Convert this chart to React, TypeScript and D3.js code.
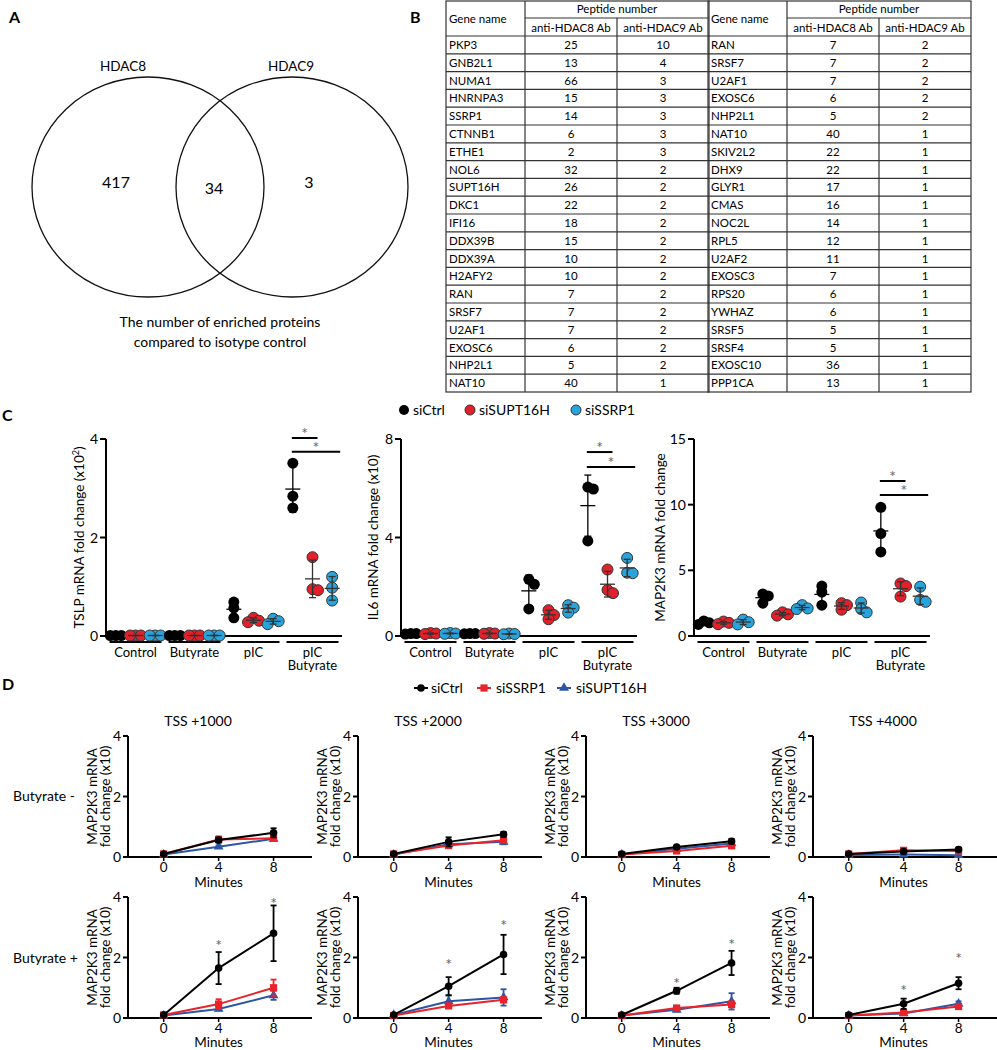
import React from "react";
import * as d3 from "d3";

const W = 997;
const H = 1050;
const FONT = "Lato, 'Liberation Sans', Arial, sans-serif";

// ---------------- Panel A data ----------------
const vennSets = ["HDAC8", "HDAC9"];
const vennCounts = [417, 34, 3];
const vennCaption = ["The number of enriched proteins", "compared to isotype control"];

// ---------------- Panel B data ----------------
const tableHeader = ["Gene name", "Peptide number", "anti-HDAC8 Ab", "anti-HDAC9 Ab"];
const leftGenes = ["PKP3", "GNB2L1", "NUMA1", "HNRNPA3", "SSRP1", "CTNNB1", "ETHE1", "NOL6", "SUPT16H", "DKC1", "IFI16", "DDX39B", "DDX39A", "H2AFY2", "RAN", "SRSF7", "U2AF1", "EXOSC6", "NHP2L1", "NAT10"];
const leftHDAC8 = [25, 13, 66, 15, 14, 6, 2, 32, 26, 22, 18, 15, 10, 10, 7, 7, 7, 6, 5, 40];
const leftHDAC9 = [10, 4, 3, 3, 3, 3, 3, 2, 2, 2, 2, 2, 2, 2, 2, 2, 2, 2, 2, 1];
const rightGenes = ["RAN", "SRSF7", "U2AF1", "EXOSC6", "NHP2L1", "NAT10", "SKIV2L2", "DHX9", "GLYR1", "CMAS", "NOC2L", "RPL5", "U2AF2", "EXOSC3", "RPS20", "YWHAZ", "SRSF5", "SRSF4", "EXOSC10", "PPP1CA"];
const rightHDAC8 = [7, 7, 7, 6, 5, 40, 22, 22, 17, 16, 14, 12, 11, 7, 6, 6, 5, 5, 36, 13];
const rightHDAC9 = [2, 2, 2, 2, 2, 1, 1, 1, 1, 1, 1, 1, 1, 1, 1, 1, 1, 1, 1, 1];

// ---------------- Panel C data ----------------
const cGroups = ["Control", "Butyrate", "pIC", "pIC Butyrate"];
const cSeries = ["siCtrl", "siSUPT16H", "siSSRP1"];
// [group][replicate]
const tslpSiCtrl = [[0.01, 0.01, 0.01], [0.01, 0.01, 0.01], [0.69, 0.57, 0.37], [3.51, 2.84, 2.6]];
const tslpSiSUPT16H = [[0.01, 0.01, 0.01], [0.01, 0.01, 0.01], [0.37, 0.31, 0.28], [1.6, 0.95, 0.93]];
const tslpSiSSRP1 = [[0.01, 0.01, 0.01], [0.01, 0.01, 0.01], [0.35, 0.3, 0.24], [1.2, 0.98, 0.72]];
const il6SiCtrl = [[0.1, 0.1, 0.08], [0.1, 0.1, 0.09], [2.3, 2.1, 1.1], [6.05, 5.97, 3.86]];
const il6SiSUPT16H = [[0.12, 0.1, 0.08], [0.12, 0.1, 0.09], [1.05, 0.85, 0.68], [2.7, 1.87, 1.74]];
const il6SiSSRP1 = [[0.12, 0.1, 0.09], [0.1, 0.08, 0.07], [1.25, 1.15, 0.95], [3.17, 2.57, 2.55]];
const mapSiCtrl = [[1.15, 1.0, 0.88], [3.2, 3.05, 2.5], [3.8, 3.35, 2.35], [9.8, 7.8, 6.4]];
const mapSiSUPT16H = [[1.1, 1.0, 0.9], [1.8, 1.65, 1.55], [2.5, 2.35, 2.0], [4.0, 3.8, 3.0]];
const mapSiSSRP1 = [[1.25, 1.05, 0.88], [2.35, 2.1, 2.05], [2.55, 2.05, 1.8], [3.75, 2.75, 2.6]];
const tslpTicks = [0, 2, 4];
const il6Ticks = [0, 4, 8];
const mapTicks = [0, 5, 10, 15];
// significance bar heights (data units): [ctrl vs siSUPT16H, ctrl vs siSSRP1]
const tslpSig = [4.02, 3.74];
const il6Sig = [7.47, 6.86];
const mapSig = [11.8, 10.74];

// ---------------- Panel D data ----------------
const dTimes = [0, 4, 8];
const dTitles = ["TSS +1000", "TSS +2000", "TSS +3000", "TSS +4000"];
const dRowLabels = ["Butyrate -", "Butyrate +"];
const dSeries = ["siCtrl", "siSSRP1", "siSUPT16H"];
const dYTicks = [0, 2, 4];
// Butyrate - : [plot][time]
const dMinusCtrlMean = [[0.1, 0.56, 0.8], [0.1, 0.5, 0.75], [0.1, 0.33, 0.52], [0.1, 0.18, 0.25]];
const dMinusCtrlErr = [[0.03, 0.08, 0.15], [0.03, 0.15, 0.08], [0.03, 0.04, 0.08], [0.03, 0.05, 0.06]];
const dMinusSSRP1Mean = [[0.1, 0.58, 0.62], [0.1, 0.38, 0.55], [0.08, 0.2, 0.37], [0.1, 0.22, 0.2]];
const dMinusSSRP1Err = [[0.05, 0.1, 0.06], [0.04, 0.06, 0.08], [0.03, 0.05, 0.06], [0.03, 0.04, 0.05]];
const dMinusSUPTMean = [[0.08, 0.34, 0.6], [0.08, 0.42, 0.5], [0.08, 0.27, 0.45], [0.07, 0.08, 0.06]];
const dMinusSUPTErr = [[0.02, 0.04, 0.05], [0.02, 0.05, 0.08], [0.02, 0.04, 0.05], [0.02, 0.03, 0.03]];
// Butyrate + : [plot][time]
const dPlusCtrlMean = [[0.1, 1.65, 2.8], [0.1, 1.05, 2.1], [0.1, 0.9, 1.82], [0.1, 0.47, 1.15]];
const dPlusCtrlErr = [[0.03, 0.53, 0.92], [0.03, 0.3, 0.65], [0.03, 0.1, 0.4], [0.03, 0.17, 0.2]];
const dPlusSSRP1Mean = [[0.1, 0.46, 1.0], [0.08, 0.4, 0.6], [0.08, 0.33, 0.45], [0.08, 0.18, 0.38]];
const dPlusSSRP1Err = [[0.04, 0.16, 0.27], [0.03, 0.06, 0.08], [0.03, 0.05, 0.1], [0.03, 0.05, 0.08]];
const dPlusSUPTMean = [[0.08, 0.3, 0.75], [0.1, 0.55, 0.68], [0.08, 0.27, 0.55], [0.08, 0.15, 0.47]];
const dPlusSUPTErr = [[0.02, 0.05, 0.15], [0.03, 0.2, 0.27], [0.02, 0.05, 0.27], [0.02, 0.04, 0.08]];
// significance star heights (data units) at 4 and 8 min, Butyrate +
const dPlusStars = [[2.5, 3.9], [1.9, 3.17], [1.26, 2.55], [1.02, 2.08]];

// ---------------- Styles ----------------
const C_FILL = ["#000000", "#e3202a", "#27a4de"];
const C_LINE = ["#000000", "#333333", "#333333"];
const D_COLOR = ["#000000", "#e8232a", "#2c55a6"];
const STAR = "#666666";

function PanelA() {
  const circles = [
    { cx: 148, cy: 187 },
    { cx: 292, cy: 187 },
  ];
  const labelPos = [123, 291];
  const countPos = [
    { x: 116, y: 188 },
    { x: 214, y: 194 },
    { x: 309, y: 188 },
  ];
  return (
    <g>
      <text x={9} y={23} fontSize={16} fontWeight="bold">A</text>
      {circles.map((c, i) => (
        <ellipse key={i} cx={c.cx} cy={c.cy} rx={116} ry={110} fill="none" stroke="#111" strokeWidth={1.3} />
      ))}
      {vennSets.map((s, i) => (
        <text key={s} x={labelPos[i]} y={71} fontSize={13.5} textAnchor="middle">{s}</text>
      ))}
      {vennCounts.map((c, i) => (
        <text key={i} x={countPos[i].x} y={countPos[i].y} fontSize={16} textAnchor="middle">{c}</text>
      ))}
      {vennCaption.map((t, i) => (
        <text key={i} x={220} y={327 + i * 20} fontSize={14} textAnchor="middle">{t}</text>
      ))}
    </g>
  );
}

function Table({ x0, genes, h8, h9 }: { x0: number; genes: string[]; h8: number[]; h9: number[] }) {
  const xs = [x0, x0 + 79, x0 + 171, x0 + 263];
  const top = 1;
  const mid = 18;
  const hdr = 36;
  const bottom = 392;
  const rowY = d3.scaleBand<number>().domain(d3.range(genes.length)).range([hdr, bottom]);
  const rh = rowY.bandwidth();
  const stroke = "#333";
  return (
    <g fontSize={11.5}>
      <rect x={xs[0]} y={top} width={xs[3] - xs[0]} height={bottom - top} fill="none" stroke={stroke} strokeWidth={1.2} />
      <line x1={xs[1]} x2={xs[3]} y1={mid} y2={mid} stroke={stroke} strokeWidth={1.2} />
      <line x1={xs[1]} x2={xs[1]} y1={top} y2={bottom} stroke={stroke} strokeWidth={1.2} />
      <line x1={xs[2]} x2={xs[2]} y1={mid} y2={bottom} stroke={stroke} strokeWidth={1.2} />
      {d3.range(genes.length).map((i) => (
        <line key={i} x1={xs[0]} x2={xs[3]} y1={rowY(i)!} y2={rowY(i)!} stroke={stroke} strokeWidth={1.2} />
      ))}
      <text x={xs[0] + 3} y={23}>{tableHeader[0]}</text>
      <text x={(xs[1] + xs[3]) / 2} y={13} textAnchor="middle">{tableHeader[1]}</text>
      <text x={(xs[1] + xs[2]) / 2} y={32} textAnchor="middle">{tableHeader[2]}</text>
      <text x={(xs[2] + xs[3]) / 2} y={32} textAnchor="middle">{tableHeader[3]}</text>
      {genes.map((g, i) => (
        <g key={i}>
          <text x={xs[0] + 3} y={rowY(i)! + rh / 2 + 4}>{g}</text>
          <text x={(xs[1] + xs[2]) / 2} y={rowY(i)! + rh / 2 + 4} textAnchor="middle">{h8[i]}</text>
          <text x={(xs[2] + xs[3]) / 2} y={rowY(i)! + rh / 2 + 4} textAnchor="middle">{h9[i]}</text>
        </g>
      ))}
    </g>
  );
}

function PanelB() {
  return (
    <g>
      <text x={410} y={23} fontSize={16} fontWeight="bold">B</text>
      <Table x0={446} genes={leftGenes} h8={leftHDAC8} h9={leftHDAC9} />
      <Table x0={708} genes={rightGenes} h8={rightHDAC8} h9={rightHDAC9} />
    </g>
  );
}

function swarm(ys: number[], r: number): number[] {
  const placed: { x: number; y: number }[] = [];
  return ys.map((yv) => {
    const cands = [0, 1, -1, 2, -2];
    for (const c of cands) {
      const dx = c * r;
      if (placed.every((p) => Math.hypot(p.x - dx, p.y - yv) >= r * 0.999)) {
        placed.push({ x: dx, y: yv });
        return dx;
      }
    }
    return 0;
  });
}

function CPlot({
  axisX,
  yMax,
  ticks,
  data,
  sig,
  label,
  labelOffset,
}: {
  axisX: number;
  yMax: number;
  ticks: number[];
  data: number[][][];
  sig: number[];
  label: React.ReactNode;
  labelOffset: number;
}) {
  const y0 = 636;
  const yTop = 439;
  const y = d3.scaleLinear().domain([0, yMax]).range([y0, yTop]);
  const band = d3.scaleBand<string>().domain(cGroups).range([axisX, axisX + 236]);
  const step = band.bandwidth() / 3;
  const sx = (g: string, s: number) => band(g)! + band.bandwidth() / 2 + (s - 1) * step;
  const r = 5.5;
  const last = cGroups[3];
  const bx0 = sx(last, 0) - 1;
  const bEnds = [sx(last, 1) + 5, sx(last, 2) + 8];
  return (
    <g>
      {/* y axis */}
      <line x1={axisX} x2={axisX} y1={y0 + 1} y2={yTop} stroke="#000" strokeWidth={2} />
      {ticks.map((t) => (
        <g key={t}>
          <line x1={axisX - 6} x2={axisX} y1={y(t)} y2={y(t)} stroke="#000" strokeWidth={2} />
          <text x={axisX - 8} y={y(t) + 5} fontSize={14} textAnchor="end">{t}</text>
        </g>
      ))}
      <text transform={`translate(${axisX - labelOffset},${(y0 + yTop) / 2}) rotate(-90)`} fontSize={13.5} textAnchor="middle">
        {label}
      </text>
      {/* x axis */}
      <line x1={axisX - 1} x2={axisX + 236} y1={y0} y2={y0} stroke="#000" strokeWidth={2} />
      {cGroups.map((g) => {
        const x1 = band(g)! + 3.5;
        const x2 = band(g)! + band.bandwidth() - 3.5;
        const cx = (x1 + x2) / 2;
        const parts = g.split(" ");
        return (
          <g key={g}>
            <line x1={x1} x2={x2} y1={642} y2={642} stroke="#000" strokeWidth={2} />
            <text x={cx} y={657} fontSize={13} textAnchor="middle">
              {parts.map((p, i) => (
                <tspan key={i} x={cx} dy={i === 0 ? 0 : 13}>{p}</tspan>
              ))}
            </text>
          </g>
        );
      })}
      {/* points */}
      {cGroups.map((g, gi) =>
        data.map((series, si) => {
          const vals = series[gi];
          const ys = vals.map((v) => y(v));
          const offs = swarm(ys, r);
          const m = d3.mean(vals)!;
          const sd = d3.deviation(vals)!;
          const cx = sx(g, si);
          return (
            <g key={g + si}>
              {vals.map((v, k) => (
                <circle
                  key={k}
                  cx={cx + offs[k]}
                  cy={y(v)}
                  r={r}
                  fill={C_FILL[si]}
                  stroke={si === 0 ? "none" : "#333"}
                  strokeWidth={1}
                />
              ))}
              <line x1={cx} x2={cx} y1={y(m - sd)} y2={y(m + sd)} stroke={C_LINE[si]} strokeWidth={1.3} />
              <line x1={cx - 3.5} x2={cx + 3.5} y1={y(m - sd)} y2={y(m - sd)} stroke={C_LINE[si]} strokeWidth={1.3} />
              <line x1={cx - 3.5} x2={cx + 3.5} y1={y(m + sd)} y2={y(m + sd)} stroke={C_LINE[si]} strokeWidth={1.3} />
              <line x1={cx - 7.5} x2={cx + 7.5} y1={y(m)} y2={y(m)} stroke={C_LINE[si]} strokeWidth={1.3} />
            </g>
          );
        })
      )}
      {/* significance */}
      {sig.map((s, i) => (
        <g key={i}>
          <line x1={bx0} x2={bEnds[i]} y1={y(s)} y2={y(s)} stroke="#000" strokeWidth={2} />
          <text x={(bx0 + bEnds[i]) / 2} y={y(s) + 1} fontSize={16} fill={STAR} textAnchor="middle">*</text>
        </g>
      ))}
    </g>
  );
}

function PanelC() {
  const legendX = [404, 470, 576];
  return (
    <g>
      <text x={2} y={421} fontSize={16} fontWeight="bold">C</text>
      {cSeries.map((s, i) => (
        <g key={s}>
          <circle cx={legendX[i]} cy={410} r={5} fill={C_FILL[i]} stroke={i === 0 ? "none" : "#333"} />
          <text x={legendX[i] + 9} y={415} fontSize={14}>{s}</text>
        </g>
      ))}
      <CPlot
        axisX={106}
        yMax={4}
        ticks={tslpTicks}
        data={[tslpSiCtrl, tslpSiSUPT16H, tslpSiSSRP1]}
        sig={tslpSig}
        labelOffset={22}
        label={
          <>
            TSLP mRNA fold change (x10<tspan dy={-5} fontSize={9}>2</tspan>
            <tspan dy={5}>)</tspan>
          </>
        }
      />
      <CPlot
        axisX={401}
        yMax={8}
        ticks={il6Ticks}
        data={[il6SiCtrl, il6SiSUPT16H, il6SiSSRP1]}
        sig={il6Sig}
        labelOffset={23}
        label={"IL6 mRNA fold change (x10)"}
      />
      <CPlot
        axisX={694}
        yMax={15}
        ticks={mapTicks}
        data={[mapSiCtrl, mapSiSUPT16H, mapSiSSRP1]}
        sig={mapSig}
        labelOffset={29}
        label={"MAP2K3 mRNA fold change"}
      />
    </g>
  );
}

function Marker({ kind, x, y, color }: { kind: number; x: number; y: number; color: string }) {
  if (kind === 0) return <circle cx={x} cy={y} r={3.8} fill={color} />;
  if (kind === 1) return <rect x={x - 3.6} y={y - 3.6} width={7.2} height={7.2} fill={color} />;
  const p = d3.symbol(d3.symbolTriangle, 42)()!;
  return <path d={p} transform={`translate(${x},${y})`} fill={color} />;
}

function DPlot({
  axisX,
  y0,
  title,
  means,
  errs,
  stars,
}: {
  axisX: number;
  y0: number;
  title?: string;
  means: number[][];
  errs: number[][];
  stars?: number[];
}) {
  const x = d3.scaleLinear().domain([-2.6, 10.8]).range([axisX, axisX + 184]);
  const y = d3.scaleLinear().domain([0, 4]).range([y0, y0 - 121]);
  const line = d3
    .line<number>()
    .x((_, i) => x(dTimes[i]))
    .y((d) => y(d));
  const order = [2, 1, 0];
  return (
    <g>
      {title && (
        <text x={axisX + 70} y={726} fontSize={14} textAnchor="middle">{title}</text>
      )}
      <line x1={axisX} x2={axisX} y1={y0 + 1} y2={y(4)} stroke="#000" strokeWidth={2} />
      {dYTicks.map((t) => (
        <g key={t}>
          <line x1={axisX - 5} x2={axisX} y1={y(t)} y2={y(t)} stroke="#000" strokeWidth={2} />
          <text x={axisX - 7} y={y(t) + 5} fontSize={14} textAnchor="end">{t}</text>
        </g>
      ))}
      <line x1={axisX - 1} x2={axisX + 184} y1={y0} y2={y0} stroke="#000" strokeWidth={2} />
      {dTimes.map((t) => (
        <g key={t}>
          <line x1={x(t)} x2={x(t)} y1={y0} y2={y0 + 4} stroke="#000" strokeWidth={1.5} />
          <text x={x(t)} y={y0 + 15} fontSize={13.5} textAnchor="middle">{t}</text>
        </g>
      ))}
      <text x={x(4)} y={Math.min(y0 + 30, 1047)} fontSize={13.5} textAnchor="middle">Minutes</text>
      <g transform={`translate(${axisX - 31},${y0 - 60.5}) rotate(-90)`} fontSize={13.5} textAnchor="middle">
        <text x={0} y={0}>MAP2K3 mRNA</text>
        <text x={0} y={13}>fold change (x10)</text>
      </g>
      {order.map((si) => (
        <g key={si}>
          <path d={line(means[si])!} fill="none" stroke={D_COLOR[si]} strokeWidth={2} />
          {means[si].map((m, ti) => {
            const e = errs[si][ti];
            const cx = x(dTimes[ti]);
            return (
              <g key={ti}>
                <line x1={cx} x2={cx} y1={y(m - e)} y2={y(m + e)} stroke={D_COLOR[si]} strokeWidth={1.8} />
                <line x1={cx - 3} x2={cx + 3} y1={y(m - e)} y2={y(m - e)} stroke={D_COLOR[si]} strokeWidth={1.8} />
                <line x1={cx - 3} x2={cx + 3} y1={y(m + e)} y2={y(m + e)} stroke={D_COLOR[si]} strokeWidth={1.8} />
                <Marker kind={si} x={cx} y={y(m)} color={D_COLOR[si]} />
              </g>
            );
          })}
        </g>
      ))}
      {stars &&
        stars.map((s, i) => (
          <text key={i} x={x(dTimes[i + 1])} y={y(s) + 9} fontSize={16} fill={STAR} textAnchor="middle">*</text>
        ))}
    </g>
  );
}

function PanelD() {
  const axisXs = [128, 358, 586, 813];
  const legend = [
    { x: 421, tx: 431 },
    { x: 484, tx: 496 },
    { x: 564, tx: 576 },
  ];
  return (
    <g>
      <text x={2} y={690} fontSize={16} fontWeight="bold">D</text>
      {dSeries.map((s, i) => (
        <g key={s}>
          <line x1={legend[i].x - 7} x2={legend[i].x + 7} y1={688} y2={688} stroke={D_COLOR[i]} strokeWidth={2} />
          <Marker kind={i} x={legend[i].x} y={688} color={D_COLOR[i]} />
          <text x={legend[i].tx} y={693} fontSize={14}>{s}</text>
        </g>
      ))}
      <text x={13} y={801} fontSize={14}>{dRowLabels[0]}</text>
      <text x={13} y={963} fontSize={14}>{dRowLabels[1]}</text>
      {axisXs.map((ax, p) => (
        <g key={p}>
          <DPlot
            axisX={ax}
            y0={857}
            title={dTitles[p]}
            means={[dMinusCtrlMean[p], dMinusSSRP1Mean[p], dMinusSUPTMean[p]]}
            errs={[dMinusCtrlErr[p], dMinusSSRP1Err[p], dMinusSUPTErr[p]]}
          />
          <DPlot
            axisX={ax}
            y0={1018}
            means={[dPlusCtrlMean[p], dPlusSSRP1Mean[p], dPlusSUPTMean[p]]}
            errs={[dPlusCtrlErr[p], dPlusSSRP1Err[p], dPlusSUPTErr[p]]}
            stars={dPlusStars[p]}
          />
        </g>
      ))}
    </g>
  );
}

export default function App() {
  return (
    <svg
      width={W}
      height={H}
      viewBox={`0 0 ${W} ${H}`}
      style={{ position: "absolute", left: 0, top: 0, background: "#fff" }}
      fontFamily={FONT}
    >
      <rect width={W} height={H} fill="#fff" />
      <PanelA />
      <PanelB />
      <PanelC />
      <PanelD />
    </svg>
  );
}
